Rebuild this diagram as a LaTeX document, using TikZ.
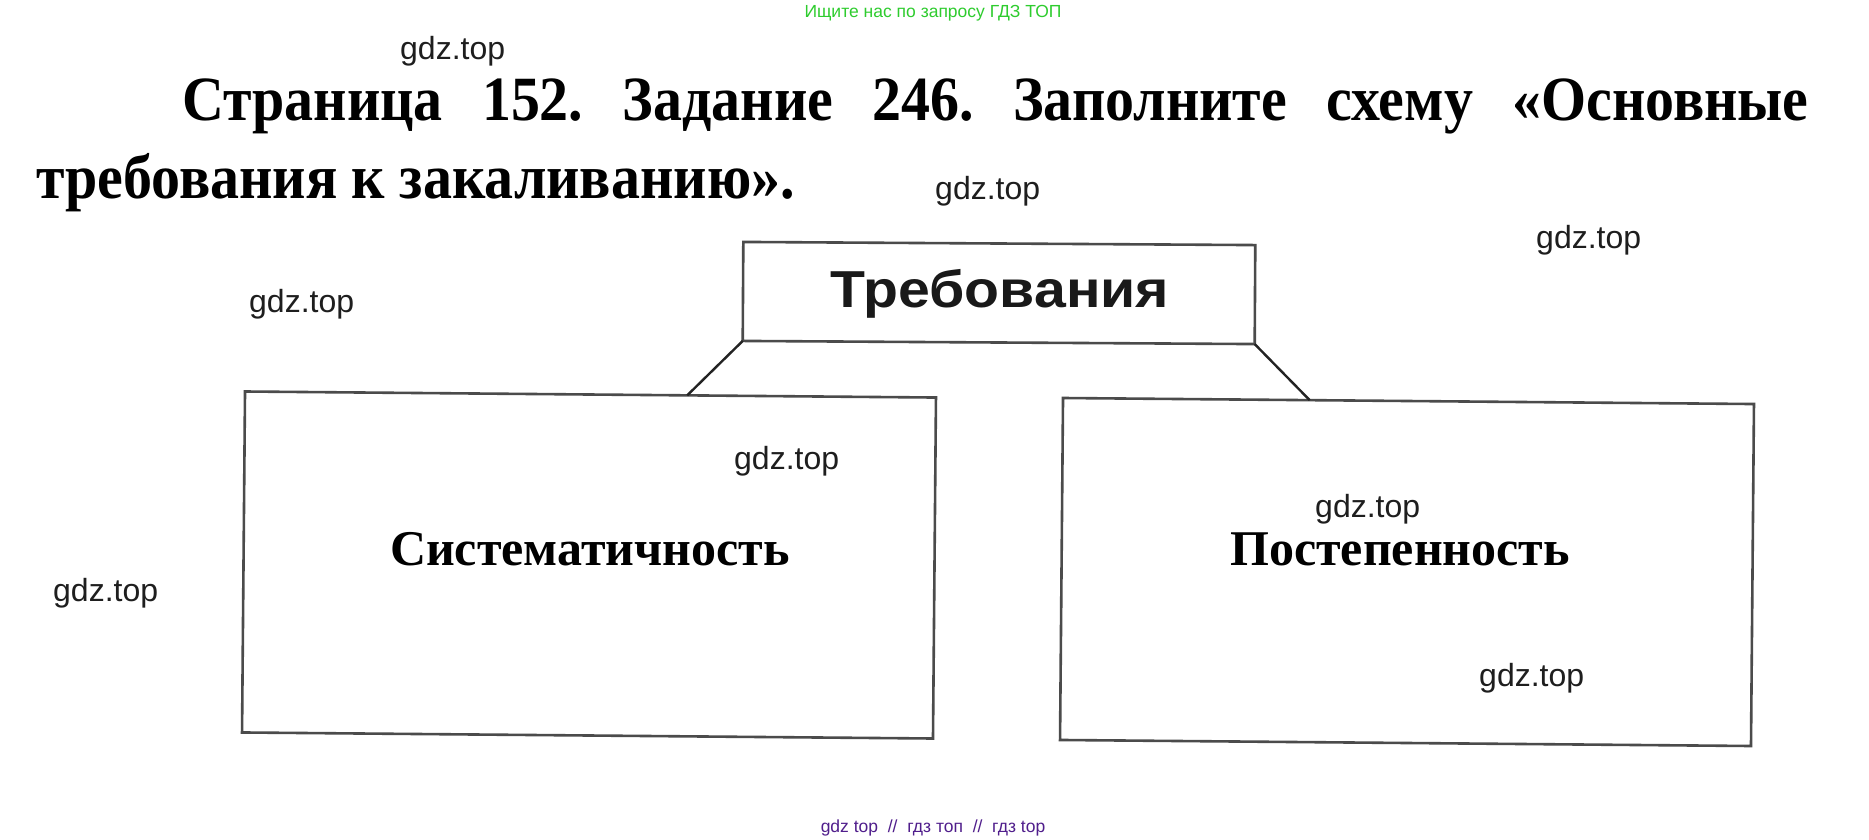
\documentclass[tikz,border=0pt]{standalone}
\usepackage{fontspec}
\setmainfont{Liberation Serif}
\newfontfamily\wmfont{Liberation Sans}
\usetikzlibrary{calc}
\definecolor{wmgray}{RGB}{30,30,30}
\definecolor{adgreen}{RGB}{46,204,46}
\definecolor{adpurple}{RGB}{80,30,140}
\definecolor{boxline}{RGB}{75,75,75}
\definecolor{connline}{RGB}{35,35,35}
\begin{document}
\begin{tikzpicture}[x=1pt,y=-1pt,
  bigbox/.style={draw=boxline, line width=2.6pt, outer sep=0pt, inner sep=0pt, rectangle},
  conn/.style={draw=connline, line width=2.4pt},
  wm/.style={anchor=base west, inner sep=0pt, text=wmgray, font=\wmfont\fontsize{32}{32}\selectfont},
  title/.style={anchor=base west, inner sep=0pt, font=\bfseries\fontsize{63}{63}\selectfont},
  boxtext/.style={anchor=base, inner sep=0pt, font=\bfseries\fontsize{50}{50}\selectfont}]
\fill[white] (0,0) rectangle (1869,840);
\useasboundingbox (0,0) rectangle (1869,840);

% ad lines
\node[anchor=base, inner sep=0pt, text=adgreen, font=\wmfont\fontsize{17.5}{17.5}\selectfont] (adtop) at (933,17.3) {Ищите нас по запросу ГДЗ ТОП};
\node[anchor=base, inner sep=0pt, text=adpurple, font=\wmfont\fontsize{17.5}{17.5}\selectfont] (adbot) at (933,832) {gdz top\ \ //\ \ гдз топ\ \ //\ \ гдз top};

% title
\node[title] (t1) at (182,121) {\scalebox{0.92}[1]{\hbox to 1768pt{Страница\hfill 152.\hfill Задание\hfill 246.\hfill Заполните\hfill схему\hfill «Основные}}};
\node[title] (t2) at (36,198) {\scalebox{0.92}[1]{требования к закаливанию».}};

% boxes
\node[bigbox, rotate=-0.35, minimum width=512pt, minimum height=99pt] (tb) at (999,293) {};
\node[bigbox, rotate=-0.5, minimum width=691pt, minimum height=341pt] (lb) at (589,565) {};
\node[bigbox, rotate=-0.5, minimum width=691pt, minimum height=342pt] (rb) at (1407,572) {};

\node[anchor=base, inner sep=0pt, text=black!90, font=\wmfont\bfseries\fontsize{52}{52}\selectfont] (tt) at (1000,307) {\scalebox{1.1}[1]{Требования}};

\coordinate (lj) at ($(lb.north west)!0.64!(lb.north east)$);
\coordinate (rj) at ($(rb.north west)!0.357!(rb.north east)$);
\draw[conn] (tb.south west) -- (lj);
\draw[conn] (tb.south east) -- (rj);

\node[boxtext] (s1) at (590,565) {Систематичность};
\node[boxtext] (s2) at (1400,565) {Постепенность};

% watermarks
\node[wm] (w1) at (400,60) {gdz.top};
\node[wm] (w2) at (935,200) {gdz.top};
\node[wm] (w3) at (1536,248) {gdz.top};
\node[wm] (w4) at (249,312) {gdz.top};
\node[wm] (w5) at (734,469) {gdz.top};
\node[wm] (w6) at (1315,517) {gdz.top};
\node[wm] (w7) at (53,601) {gdz.top};
\node[wm] (w8) at (1479,686) {gdz.top};
\end{tikzpicture}
\end{document}
